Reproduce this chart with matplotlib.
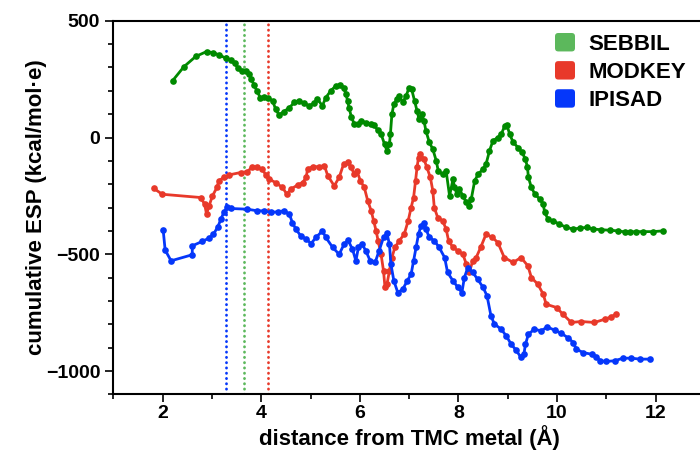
import numpy as np
import matplotlib
matplotlib.use("Agg")
from matplotlib import pyplot as plt
from matplotlib.patches import FancyBboxPatch, Patch
from matplotlib.legend_handler import HandlerPatch
from matplotlib.ticker import MultipleLocator

plt.rcParams['font.family'] = ['Liberation Sans', 'DejaVu Sans']
plt.rcParams['font.weight'] = 'bold'

# cumulative ESP profiles (distance in Angstrom, ESP in kcal/mol.e)
sebbil_x = [2.20, 2.43, 2.67, 2.89, 3.03, 3.14, 3.28, 3.38, 3.46, 3.53, 3.60, 3.69, 3.75, 3.80,
            3.85, 3.91, 3.98, 4.06, 4.14, 4.23, 4.29, 4.36, 4.46, 4.57, 4.67, 4.77, 4.87, 4.97,
            5.06, 5.14, 5.24, 5.31, 5.41, 5.51, 5.60, 5.67, 5.72, 5.75, 5.78, 5.83, 5.89, 5.96,
            6.02, 6.12, 6.23, 6.29, 6.36, 6.43, 6.50, 6.55, 6.60, 6.62, 6.65, 6.69, 6.75, 6.80,
            6.87, 6.94, 7.00, 7.05, 7.11, 7.16, 7.20, 7.26, 7.30, 7.34, 7.41, 7.48, 7.55, 7.59,
            7.68, 7.75, 7.82, 7.89, 7.92, 7.97, 8.02, 8.09, 8.16, 8.21, 8.26, 8.33, 8.40, 8.50,
            8.56, 8.63, 8.70, 8.80, 8.87, 8.94, 8.98, 9.04, 9.11, 9.21, 9.29, 9.36, 9.40, 9.42,
            9.48, 9.55, 9.65, 9.72, 9.75, 9.82, 9.92, 10.05, 10.19, 10.33, 10.46, 10.60, 10.73,
            10.90, 11.07, 11.24, 11.37, 11.48, 11.61, 11.75, 11.95, 12.14]
sebbil_y = [243, 303, 347, 368, 363, 354, 340, 331, 317, 297, 283, 283, 272, 250,
            226, 200, 171, 174, 169, 157, 122, 97, 111, 128, 150, 157, 147, 136,
            146, 164, 136, 171, 200, 221, 226, 212, 186, 157, 128, 86, 57, 57,
            72, 64, 57, 54, 32, 15, -28, -57, -28, 15, 100, 143, 164, 179,
            150, 179, 214, 207, 157, 114, 79, 100, 72, 29, -21, -50, -100, -143,
            -157, -143, -250, -178, -214, -242, -221, -250, -278, -293, -264, -185, -157, -135,
            -114, -57, -14, 0, 15, 50, 54, 15, -21, -43, -64, -93, -128, -171,
            -214, -242, -264, -285, -321, -350, -357, -371, -385, -392, -388, -385, -392,
            -395, -397, -400, -404, -404, -403, -403, -403, -400]

modkey_x = [1.82, 1.99, 2.77, 2.85, 2.89, 2.94, 3.01, 3.10, 3.14, 3.24, 3.35, 3.58, 3.72, 3.82,
            3.92, 4.02, 4.09, 4.16, 4.29, 4.43, 4.52, 4.60, 4.74, 4.84, 4.91, 4.94, 5.04, 5.17,
            5.28, 5.35, 5.48, 5.58, 5.67, 5.75, 5.82, 5.89, 5.94, 6.01, 6.09, 6.16, 6.23, 6.28,
            6.33, 6.37, 6.43, 6.48, 6.51, 6.55, 6.60, 6.65, 6.71, 6.80, 6.90, 6.98, 7.04, 7.09,
            7.13, 7.16, 7.19, 7.23, 7.30, 7.36, 7.43, 7.48, 7.51, 7.58, 7.68, 7.75, 7.80, 7.89,
            7.99, 8.09, 8.16, 8.22, 8.29, 8.36, 8.45, 8.56, 8.69, 8.80, 8.93, 9.11, 9.27, 9.41,
            9.48, 9.61, 9.72, 9.78, 9.99, 10.12, 10.29, 10.49, 10.76, 10.97, 11.10, 11.19]
modkey_y = [-218, -243, -257, -285, -328, -293, -250, -214, -185, -171, -160, -150, -146, -125,
            -128, -135, -160, -178, -193, -214, -243, -221, -203, -193, -171, -135, -125, -125,
            -121, -164, -207, -171, -114, -107, -128, -157, -143, -185, -214, -271, -314, -357,
            -400, -442, -500, -571, -642, -628, -571, -514, -471, -442, -414, -357, -300, -257,
            -185, -128, -86, -71, -93, -128, -171, -228, -300, -343, -357, -392, -442, -471,
            -485, -500, -542, -578, -528, -514, -471, -414, -428, -450, -514, -535, -514, -550,
            -600, -628, -671, -714, -728, -757, -792, -788, -792, -778, -768, -757]

ipisad_x = [2.01, 2.05, 2.17, 2.60, 2.60, 2.80, 2.94, 3.03, 3.12, 3.18, 3.24, 3.31, 3.38, 3.72,
            3.92, 4.06, 4.19, 4.33, 4.46, 4.57, 4.63, 4.70, 4.80, 4.91, 5.01, 5.11, 5.24, 5.31,
            5.45, 5.58, 5.68, 5.76, 5.85, 5.92, 5.97, 6.04, 6.12, 6.21, 6.31, 6.39, 6.48, 6.55,
            6.60, 6.63, 6.69, 6.77, 6.87, 6.96, 7.04, 7.09, 7.14, 7.19, 7.24, 7.30, 7.34, 7.41,
            7.51, 7.61, 7.72, 7.78, 7.89, 7.99, 8.07, 8.12, 8.19, 8.29, 8.39, 8.50, 8.58, 8.66,
            8.73, 8.87, 8.97, 9.07, 9.17, 9.26, 9.33, 9.36, 9.42, 9.54, 9.68, 9.80, 9.95, 10.09,
            10.22, 10.33, 10.39, 10.53, 10.70, 10.80, 10.87, 11.00, 11.17, 11.34, 11.51, 11.68, 11.88]
ipisad_y = [-397, -482, -528, -502, -464, -445, -431, -414, -382, -350, -321, -297, -304, -307,
            -314, -314, -321, -318, -314, -328, -364, -392, -421, -435, -454, -428, -400, -428,
            -471, -500, -457, -440, -478, -528, -471, -454, -485, -528, -535, -485, -428, -411,
            -457, -542, -614, -664, -650, -614, -585, -528, -471, -414, -378, -364, -392, -428,
            -442, -471, -514, -578, -614, -642, -664, -600, -557, -578, -607, -642, -678, -764,
            -799, -821, -850, -885, -911, -939, -925, -885, -842, -821, -828, -811, -825, -839,
            -857, -878, -906, -921, -928, -939, -956, -959, -956, -945, -945, -949, -949]

names = ['SEBBIL', 'MODKEY', 'IPISAD']
cutoffs = [3.64, 4.13, 3.28]
line_colors = ['#008a00', '#e8392a', '#0537fa']
key_colors = ['#5cb85c', '#e8392a', '#0537fa']


class HandlerRounded(HandlerPatch):
    def create_artists(self, legend, orig_handle, xdescent, ydescent, width, height, fontsize, trans):
        box = FancyBboxPatch((-xdescent, -ydescent), width, height,
                             boxstyle="round,pad=0,rounding_size=%.2f" % (0.18 * height),
                             facecolor=orig_handle.get_facecolor(), edgecolor='none',
                             transform=trans)
        return [box]


fig = plt.figure(figsize=(7.0, 4.63), dpi=100)
ax = fig.add_axes([0.162, 0.1482, 0.845, 0.807])

for xs, ys, c in zip([sebbil_x, modkey_x, ipisad_x], [sebbil_y, modkey_y, ipisad_y], line_colors):
    ax.plot(xs, ys, '-o', color=c, lw=2.0, ms=4.8, mew=0, zorder=3)

# dotted cutoff lines
for xc, c in zip(cutoffs, key_colors):
    ax.axvline(xc, color=c, lw=2.0, linestyle=(0, (0.1, 1.8)), dash_capstyle='round', zorder=2)

ax.set_xlim(1, 13)
ax.set_ylim(-1100, 500)
ax.xaxis.set_major_locator(MultipleLocator(2))
ax.xaxis.set_minor_locator(MultipleLocator(1))
ax.yaxis.set_major_locator(MultipleLocator(500))
ax.yaxis.set_minor_locator(MultipleLocator(100))
ax.tick_params(which='major', length=6, width=1.2, labelsize=14, direction='out')
ax.tick_params(axis='x', which='major', pad=2)
ax.tick_params(which='minor', length=3.5, width=1.2, direction='out')
for lab in ax.get_xticklabels() + ax.get_yticklabels():
    lab.set_fontweight('bold')
for s in ['left', 'bottom', 'top']:
    ax.spines[s].set_linewidth(1.5)
ax.spines['right'].set_visible(False)

ax.set_xlabel('distance from TMC metal (Å)', fontsize=16, fontweight='bold', labelpad=2)
ax.set_ylabel('cumulative ESP (kcal/mol·e)', fontsize=16, fontweight='bold', labelpad=-1)

handles = [Patch(facecolor=c) for c in key_colors]
leg = ax.legend(handles, names, loc='upper left', bbox_to_anchor=(555 / 700, 1 - 33 / 463),
                bbox_transform=fig.transFigure, frameon=False, borderpad=0, borderaxespad=0,
                handlelength=0.9, handleheight=0.9, handletextpad=0.6, labelspacing=0.28,
                prop={'size': 16, 'weight': 'bold'},
                handler_map={Patch: HandlerRounded()})

fig.savefig('out.png', dpi=100)
